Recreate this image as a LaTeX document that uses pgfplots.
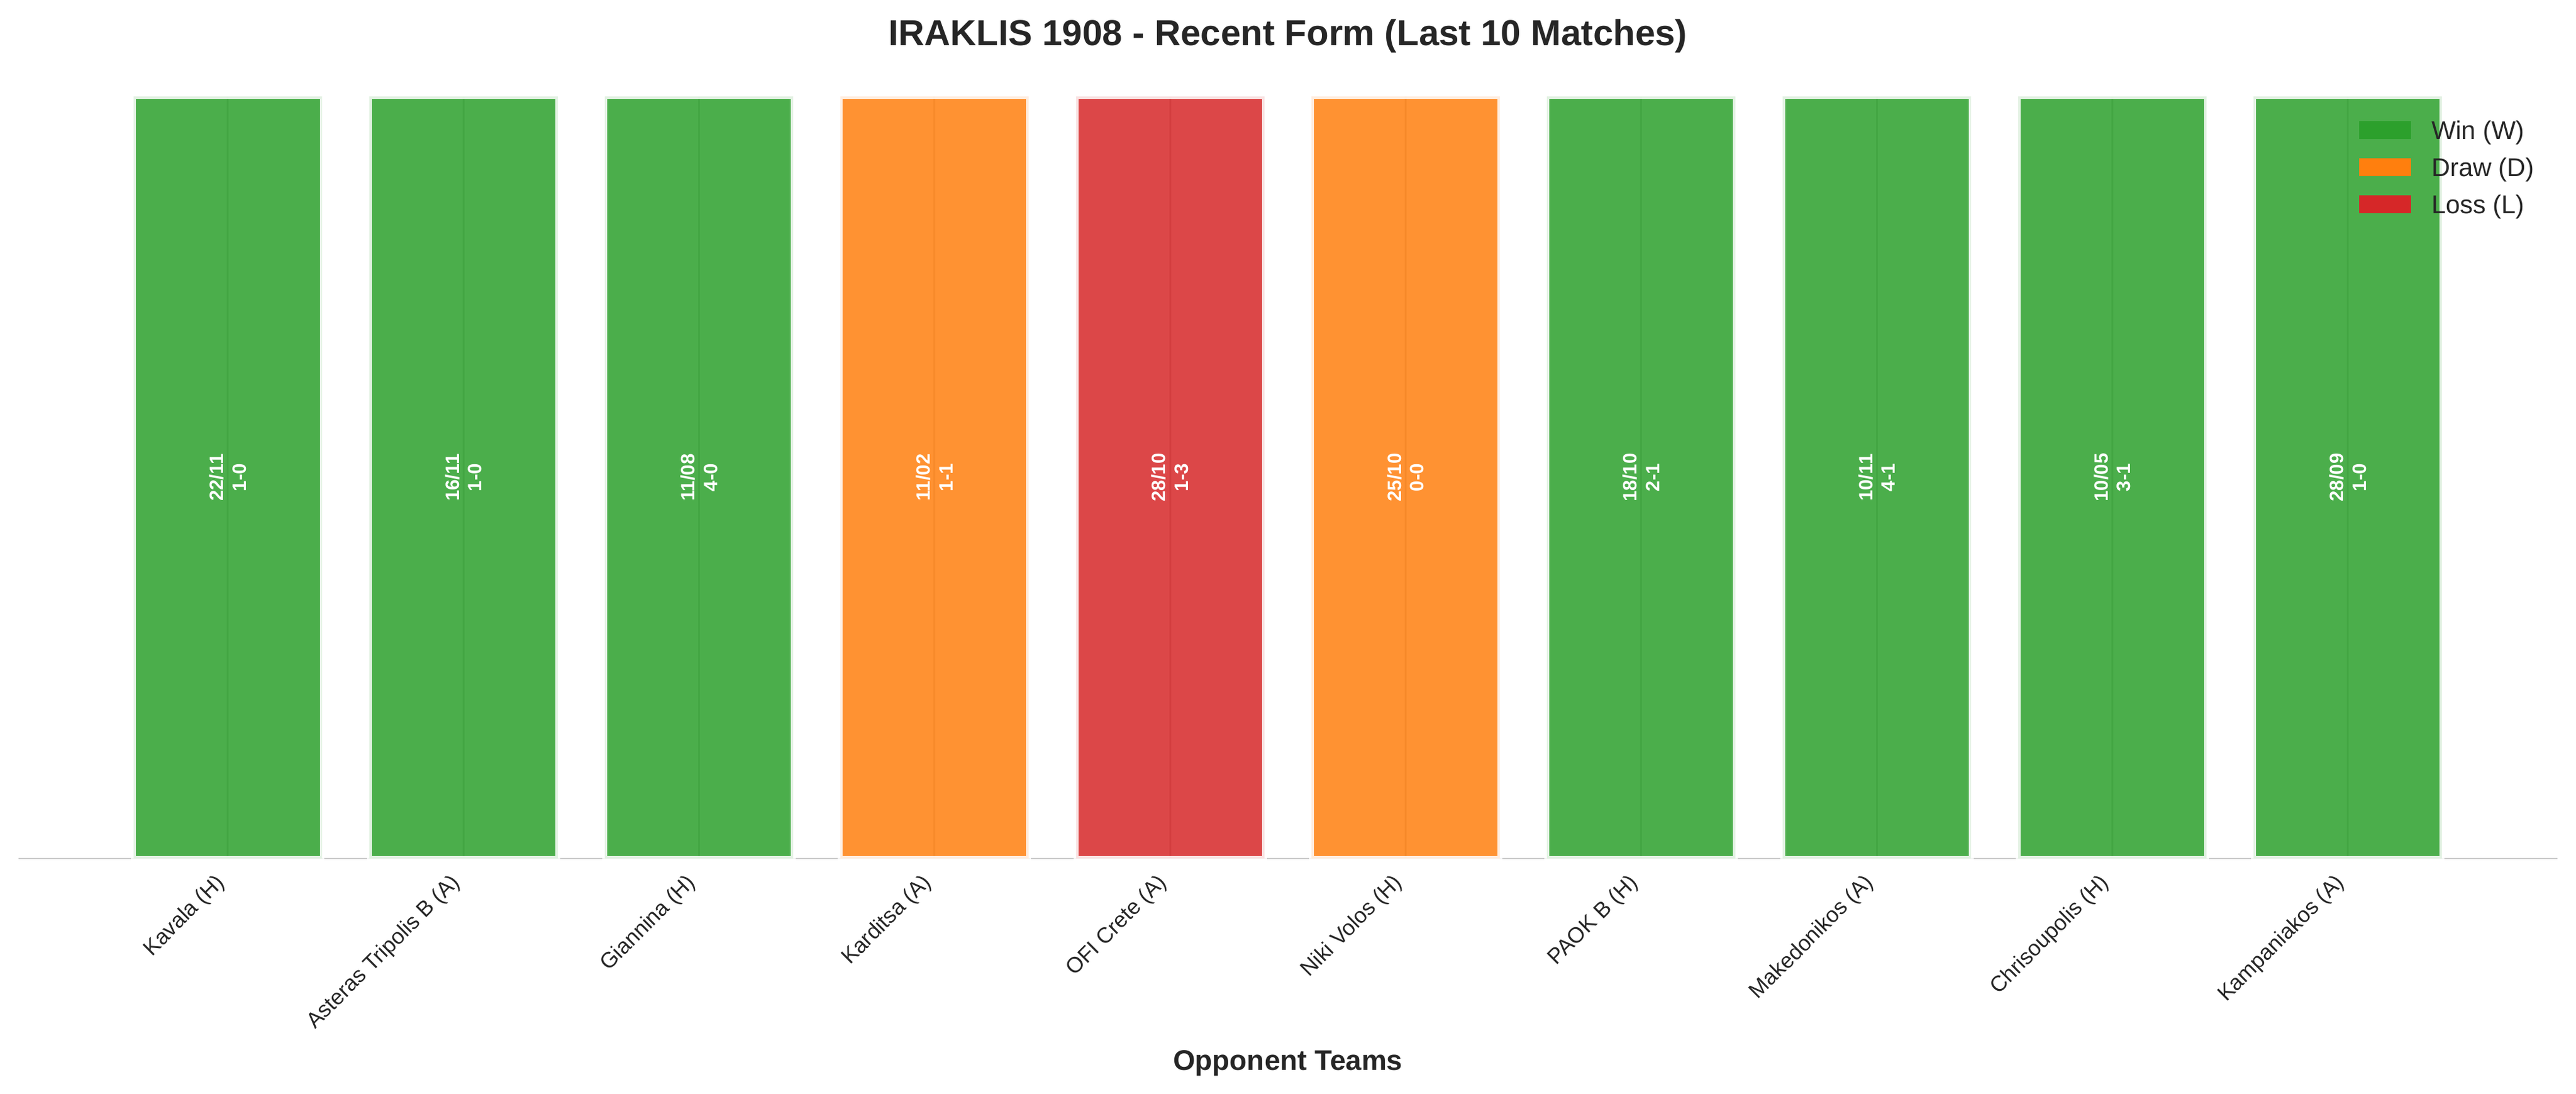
\documentclass[border=0pt]{standalone}
\usepackage{fontspec}
\setmainfont{Liberation Sans}
\usepackage{pgfplots}
\pgfplotsset{compat=1.18}

\definecolor{winc}{HTML}{2CA02C}
\definecolor{drawc}{HTML}{FF7F0E}
\definecolor{lossc}{HTML}{D62728}
\definecolor{txt}{HTML}{262626}
\definecolor{gridc}{HTML}{CCCCCC}

\begin{document}
\begin{tikzpicture}
% page size: 4170 x 1769 px, 1px = 0.24pt
\path[use as bounding box] (-7.1pt,-91.2pt) rectangle (993.6pt,333.34pt);
\begin{axis}[
    at={(0,0)}, anchor=south west,
    scale only axis,
    width=986.4pt, height=295.9pt,
    xmin=-0.89, xmax=9.89, ymin=0, ymax=1,
    ybar, bar width=0.8, bar shift=0pt,
    axis x line=bottom, axis y line=none,
    axis line style={-, draw=gridc, line width=0.6pt},
    xtick={0,...,9},
    xticklabels={Kavala (H), Asteras Tripolis B (A), Giannina (H), Karditsa (A),
        OFI Crete (A), Niki Volos (H), PAOK B (H), Makedonikos (A),
        Chrisoupolis (H), Kampaniakos (A)},
    ytick=\empty,
    major tick length=0pt,
    xmajorgrids,
    major grid style={draw=gridc, line width=0.7pt},
    % shifts first so that they act on the page, then the rotation
    x tick label style={xshift=0.5pt, yshift=-11pt,
        rotate=45, anchor=south east, inner sep=0pt,
        font=\fontsize{8.5}{10}\selectfont, text=txt},
    every axis title shift=0pt,
    title={IRAKLIS 1908 - Recent Form (Last 10 Matches)},
    title style={at={(0.5,1)}, anchor=base, yshift=19.9pt, inner sep=0pt,
        font=\fontsize{14}{17}\selectfont\bfseries, text=txt},
    xlabel={Opponent Teams},
    xlabel style={at={(axis description cs:0.5,0)}, anchor=base,
        yshift=-82.1pt, inner sep=0pt,
        font=\fontsize{11}{13}\selectfont\bfseries, text=txt},
    legend image code/.code={\fill[fill opacity=1, draw=none] (0pt,-3.5pt) rectangle (20pt,3.5pt);},
    legend cell align=left,
    legend style={at={(0.922,0.968)}, anchor=north west,
        draw=none, fill=none, inner sep=0pt, outer sep=0pt,
        row sep=7.2pt,
        font=\fontsize{10}{12}\selectfont, text=txt,
        nodes={inner sep=0pt, text height=7.2pt, text depth=0pt},
        /tikz/every odd column/.append style={column sep=8pt}},
]
% W / D / L bars, height 1 each
\addplot[fill=winc, fill opacity=0.85, draw=white, draw opacity=0.85, line width=1.9pt]
    coordinates {(0,1) (1,1) (2,1) (6,1) (7,1) (8,1) (9,1)};
\addlegendentry{Win (W)}
\addplot[fill=drawc, fill opacity=0.85, draw=white, draw opacity=0.85, line width=1.9pt]
    coordinates {(3,1) (5,1)};
\addlegendentry{Draw (D)}
\addplot[fill=lossc, fill opacity=0.85, draw=white, draw opacity=0.85, line width=1.9pt]
    coordinates {(4,1)};
\addlegendentry{Loss (L)}

% date and score in the middle of each bar
\addplot[draw=none, fill=none, forget plot,
    nodes near coords, point meta=explicit symbolic,
    every node near coord/.append style={rotate=90, anchor=center,
        text=white, align=center, inner sep=0pt,
        font=\fontsize{7.5}{8.8}\selectfont\bfseries}]
    coordinates {
        (0,0.5) [22/11\\1-0]
        (1,0.5) [16/11\\1-0]
        (2,0.5) [11/08\\4-0]
        (3,0.5) [11/02\\1-1]
        (4,0.5) [28/10\\1-3]
        (5,0.5) [25/10\\0-0]
        (6,0.5) [18/10\\2-1]
        (7,0.5) [10/11\\4-1]
        (8,0.5) [10/05\\3-1]
        (9,0.5) [28/09\\1-0]
    };
\end{axis}
\end{tikzpicture}
\end{document}
